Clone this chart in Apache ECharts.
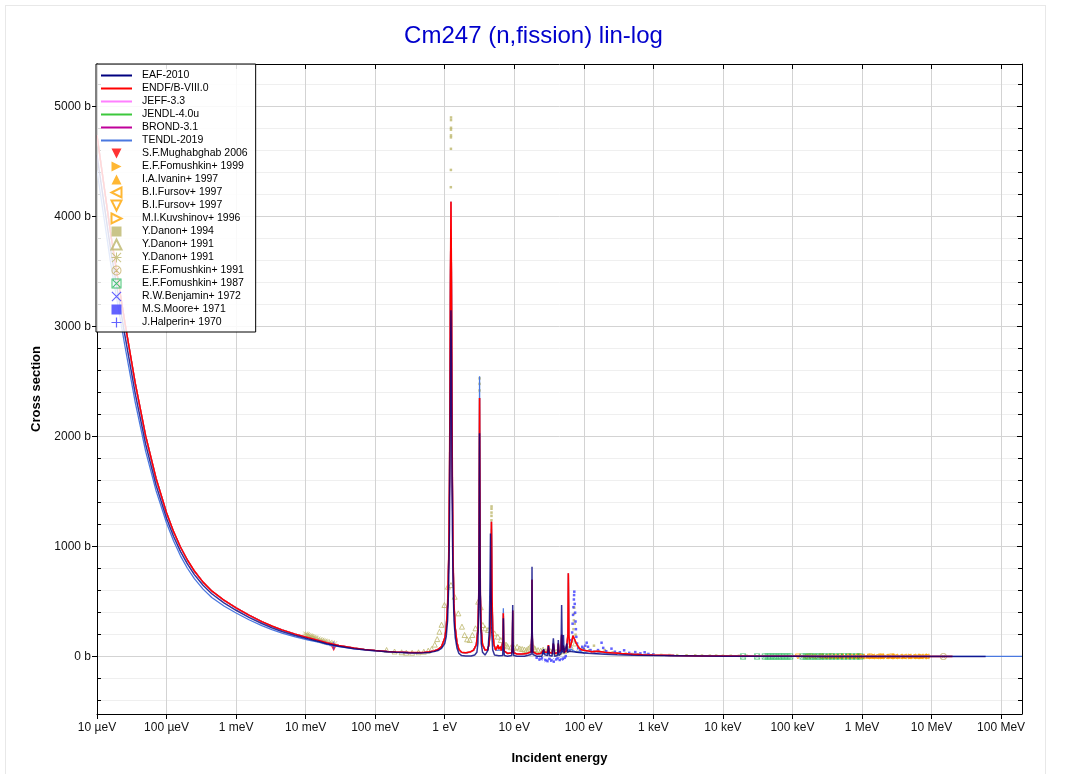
<!DOCTYPE html>
<html><head><meta charset="utf-8">
<script src="https://cdn.jsdelivr.net/npm/echarts@6/dist/echarts.min.js"></script>
<style>
html,body{margin:0;padding:0;background:#fff;}
#frame{position:absolute;left:5px;top:5px;width:1039px;height:790px;border:1px solid #e8e8e8;}
#chart{position:absolute;left:0;top:0;width:1067px;height:774px;}
</style></head>
<body><div id="frame"></div><div id="chart"></div>
<script>
// ---------- ticks ----------
const xTickValues = [1e-5,1e-4,1e-3,1e-2,1e-1,1,10,100,1e3,1e4,1e5,1e6,1e7,1e8];
const xTickLabels = ['10 µeV','100 µeV','1 meV','10 meV','100 meV','1 eV','10 eV','100 eV','1 keV','10 keV','100 keV','1 MeV','10 MeV','100 MeV'];
const yMajorTicks = [0,1000,2000,3000,4000,5000];
const yMinorTicks = [-400,-200,200,400,600,800,1200,1400,1600,1800,2200,2400,2600,2800,3200,3400,3600,3800,4200,4400,4600,4800,5200];

// ---------- evaluated data [energy eV, cross section b] ----------
const endf80 = [
[1e-5,4740],[1.585e-5,3830],[2.512e-5,3042],[3.548e-5,2486],[5.012e-5,2007],[7.079e-5,1620],[1e-4,1308],[1.259e-4,1139],[1.585e-4,997],[1.995e-4,879],[2.512e-4,779],[3.35e-4,678],[4.467e-4,598],[6.683e-4,514],[1e-3,444],[1.531e-3,378],[2.344e-3,319],[3.273e-3,279],[4.571e-3,244],[7.079e-3,205],[1.096e-2,172],[1.585e-2,146],[2e-2,127],[3e-2,102],[5e-2,78],[7e-2,66],[0.1,57],[0.15,48],[0.2,43],[0.3,38],[0.4,37],[0.5,39],[0.6,44],[0.7,52],[0.8,66],[0.9,92],
[1.0,170],[1.05,260],[1.1,480],[1.14,900],[1.17,1600],[1.19,2450],[1.21,3500],[1.23,4136],[1.25,3500],[1.27,2450],[1.29,1600],[1.32,900],[1.36,480],[1.42,260],[1.5,130],[1.6,65],[1.75,40],[2.0,35],[2.3,42],[2.6,60],[2.85,110],[3.0,250],[3.08,550],[3.12,1100],[3.15,1800],[3.17,2352],[3.19,1800],[3.22,1100],[3.26,550],[3.35,250],[3.5,110],[3.8,60],[4.1,60],[4.35,110],[4.5,250],[4.6,550],[4.66,950],[4.7,1226],[4.74,950],[4.8,550],[4.9,250],[5.1,110],[5.4,60],[5.7,70],[5.85,106],[5.95,70],[6.2,65],[6.35,91],[6.5,55],[6.8,60],[6.9,150],[6.97,394],[7.04,150],[7.2,50],[8,30],[9.2,35],[9.4,120],[9.5,420],[9.6,120],[9.8,35],[11,25],[13,25],[15,28],[17.5,45],[17.85,200],[18,700],[18.15,200],[18.5,45],[21,25],[24,30],[26.5,60],[27,70],[27.5,40],[30,40],[31,105],[32,40],[35,30],[36.5,120],[38,30],[42,35],[43,120],[44,40],[47,60],[48,200],[49,60],[51,100],[52,40],[56,50],[59,200],[60,758],[61,200],[63,80],[66,120],[70,190],[74,197],[78,120],[85,80],[95,60],[110,55],[130,45],[160,50],[200,40],[250,35],[350,28],[500,22],[700,18],[1000,15],[2000,11],[5000,7],[1e4,5.5],[3e4,4],[1e5,3],[3e5,2.3],[1e6,2],[3e6,2],[1e7,2.2],[2e7,2.4]
];
const jeff33 = endf80;   // coincides with ENDF/B-VIII.0 in the picture
const jendl40u = endf80; // coincides with ENDF/B-VIII.0 in the picture
const brond31 = endf80;  // coincides with ENDF/B-VIII.0 in the picture
const eaf2010 = [
[1e-5,4560],[1.585e-5,3684],[2.512e-5,2926],[3.548e-5,2392],[5.012e-5,1931],[7.079e-5,1558],[1e-4,1258],[1.259e-4,1095],[1.585e-4,957],[1.995e-4,843],[2.512e-4,746],[3.35e-4,649],[4.467e-4,572],[6.683e-4,490],[1e-3,422],[1.531e-3,358],[2.344e-3,302],[3.273e-3,263],[4.571e-3,229],[7.079e-3,192],[1.096e-2,160],[1.585e-2,136],[2e-2,118],[3e-2,95],[5e-2,73],[7e-2,62],[0.1,53],[0.15,45],[0.2,40],[0.3,35],[0.4,34],[0.5,35],[0.6,39],[0.7,46],[0.8,56],[0.9,75],
[1.0,120],[1.05,180],[1.1,330],[1.14,650],[1.17,1150],[1.19,1800],[1.21,2650],[1.23,3150],[1.25,2650],[1.27,1800],[1.29,1150],[1.32,650],[1.36,330],[1.42,170],[1.5,80],[1.6,30],[1.75,10],[2.0,6],[2.4,6],[2.7,15],[2.9,40],[3.0,120],[3.08,400],[3.12,900],[3.15,1550],[3.17,2031],[3.19,1550],[3.22,900],[3.26,400],[3.35,120],[3.5,40],[3.8,15],[4.0,20],[4.2,60],[4.38,250],[4.48,700],[4.55,1120],[4.62,700],[4.72,250],[4.9,60],[5.2,15],[6,8],[6.8,10],[6.9,80],[6.97,350],[7.04,80],[7.2,10],[8,5],[9.2,10],[9.4,130],[9.5,470],[9.6,130],[9.8,10],[11,4],[14,4],[17.5,20],[17.85,230],[18,818],[18.15,230],[18.5,20],[21,5],[25,5],[26,20],[26.5,70],[27,20],[30,10],[31,97],[32,10],[35,5],[36.5,167],[38,5],[42,10],[43,151],[44,10],[47,30],[48,470],[49,40],[51,197],[52,30],[55,40],[57,120],[58,40],[62,50],[70,45],[85,38],[100,33],[130,28],[200,22],[300,18],[500,14],[1000,11],[2000,9],[5000,6.5],[1e4,5],[3e4,4],[1e5,3],[3e5,2.3],[1e6,2],[3e6,2],[1e7,2.2],[2e7,2.4],[6e7,2.5]
];
const tendl2019 = [
[1e-5,4420],[1.585e-5,3562],[2.512e-5,2829],[3.548e-5,2312],[5.012e-5,1867],[7.079e-5,1507],[1e-4,1216],[1.259e-4,1054],[1.585e-4,917],[1.995e-4,804],[2.512e-4,709],[3.35e-4,614],[4.467e-4,538],[6.683e-4,461],[1e-3,397],[1.531e-3,336],[2.344e-3,282],[3.273e-3,246],[4.571e-3,215],[7.079e-3,180],[1.096e-2,151],[1.585e-2,130],[2e-2,113],[3e-2,92],[5e-2,72],[7e-2,61],[0.1,53],[0.15,45],[0.2,41],[0.3,36],[0.4,35],[0.5,37],[0.6,42],[0.7,50],[0.8,63],[0.9,88],
[1.0,165],[1.05,250],[1.1,460],[1.14,860],[1.17,1530],[1.19,2350],[1.21,3350],[1.23,3950],[1.25,3350],[1.27,2350],[1.29,1530],[1.32,860],[1.36,460],[1.42,250],[1.5,125],[1.6,60],[1.75,38],[2.0,33],[2.3,40],[2.6,58],[2.85,110],[3.0,260],[3.08,590],[3.12,1200],[3.15,1950],[3.17,2550],[3.19,1950],[3.22,1200],[3.26,590],[3.35,260],[3.5,110],[3.8,58],[4.1,58],[4.35,105],[4.5,235],[4.6,520],[4.66,900],[4.7,1160],[4.74,900],[4.8,520],[4.9,235],[5.1,105],[5.4,58],[6.0,60],[6.8,60],[6.9,170],[6.97,440],[7.04,170],[7.2,50],[8,28],[9.2,33],[9.4,110],[9.5,400],[9.6,110],[9.8,33],[11,25],[15,27],[17.5,42],[17.85,190],[18,650],[18.15,190],[18.5,42],[21,24],[25,28],[30,35],[35,28],[40,30],[45,40],[50,45],[55,50],[60,60],[65,70],[70,55],[80,40],[90,45],[100,35],[120,50],[150,30],[180,40],[220,28],[300,32],[400,22],[500,25],[700,17],[1000,14],[2000,10],[5000,7],[1e4,5.5],[3e4,4],[1e5,3],[3e5,2.3],[1e6,2],[3e6,2],[1e7,2.2],[2e7,2.4],[6e7,2.3],[1e8,2.2],[2e8,2.1]
];

// ---------- experimental data ----------
const mughabghab2006 = [[0.0253,82]];
const fomushkin1999 = [[1.5e6,2.1],[2.5e6,2.0],[4e6,2.1],[6e6,2.1],[8e6,2.2]];
const ivanin1997 = [[3e5,2.0],[3.5e5,2.1],[4e5,2.0],[4.5e5,2.1],[5e5,2.0],[6e5,2.1],[7e5,2.1],[8e5,2.0],[9e5,2.1],[1e6,2.0],[1.2e6,2.1],[1.4e6,2.1],[1.6e6,2.0],[1.8e6,2.1],[2e6,2.0],[2.4e6,2.1],[2.8e6,2.1],[3.3e6,2.1],[4e6,2.2],[5e6,2.2],[6e6,2.1],[7e6,2.1]];
const fursov1997a = [[1.5e5,2.0],[2e5,2.1],[2.5e5,2.0],[3e5,2.0],[4e5,2.1],[5e5,2.0],[6e5,2.0],[7e5,2.1],[8e5,2.1],[1e6,2.0],[1.2e6,2.0],[1.4e6,2.1],[1.6e6,2.1],[1.9e6,2.0],[2.2e6,2.1],[2.6e6,2.0],[3e6,2.0],[3.5e6,2.1],[4e6,2.1],[4.7e6,2.1],[5.5e6,2.2],[6.3e6,2.2],[7e6,2.2],[7.8e6,2.2],[8.5e6,2.2]];
const fursov1997b = [[1.2e5,1.9],[1.8e5,2.0],[2.6e5,2.0],[3.6e5,2.0],[5e5,2.0],[6.5e5,2.1],[9e5,2.1],[1.3e6,2.0],[1.9e6,2.0],[2.7e6,2.0]];
const kuvshinov1996 = [[1e6,2.0],[2e6,2.0],[3e6,2.0],[5e6,2.1],[7e6,2.2],[9e6,2.2]];
const danon1994 = [
[1.225,4268],[1.227,4425],[1.228,4617],[1.229,4721],[1.23,4739],[1.23,4791],[1.231,4808],[1.232,4878],[1.232,4902],
[3.17,2420],[3.17,2480],[3.172,2530],
[4.7,1240],[4.705,1280],[4.71,1310],[4.71,1345],[4.715,1366],
[68,140],[70,180],[71,250],[72,330],[72.5,390],[73,445],[74,300],[76,200],
[100,80],[120,60],[140,100],[160,50],[200,60],[260,40],[300,30],[400,28],[500,25],[600,22],[800,20],[1000,18],[1300,16],[1700,15],[2200,14],[3000,13],[4000,12],[5000,11],[6500,10],[8000,10],[1e4,9],[1.3e4,9],[1.7e4,8],[2.2e4,8]
];
const danon1991a = [
[0.146,61],[0.19,47],[0.24,40],[0.28,36],[0.34,36],[0.42,40],[0.5,45],[0.58,55],[0.65,70],[0.72,110],[0.78,160],[0.84,227],[0.9,290],[0.99,470],[1.11,636],[1.23,651],[1.39,545],[1.57,394],[1.77,273],[1.93,197],[2.1,158],[2.29,152],[2.5,197],[2.77,258],[3.03,500],[3.3,450],[3.53,288],[3.8,258],[4.2,243],[4.7,243],[5.2,212],[5.8,182],[6.4,152],[7.0,124],[7.6,110],
[8,95],[9,85],[10,80],[11,90],[12,75],[13,70],[14,65],[15,60],[16,75],[17,90],[19,85],[20,70],[22,60],[24,55],[26,65],[28,50],[30,55],[33,50],[36,55],[40,45],[44,40],[48,60],[52,50],[56,60],[60,70],[65,90],[75,120],[85,70],[95,60]
];
const danon1991b = [[0.0100,205],[0.0105,198],[0.011,192],[0.0115,186],[0.012,182],[0.0125,178],[0.013,172],[0.0135,168],[0.014,165],[0.015,160],[0.016,152],[0.017,148],[0.018,142],[0.019,138],[0.02,134],[0.022,128],[0.024,122],[0.026,116]];
const fomushkin1991 = [[1.48e7,2.0]];
const fomushkin1987 = [[1.95e4,2],[3.1e4,2],[4.0e4,2],[4.4e4,2],[4.8e4,2],[5.3e4,2],[5.8e4,2],[6.4e4,2],[7.0e4,2],[7.7e4,2],[8.5e4,2],[9.3e4,2],[1.4e5,2],[1.55e5,2],[1.7e5,2],[1.9e5,2],[2.1e5,2],[2.35e5,2],[2.6e5,2],[2.9e5,2],[3.3e5,2],[3.7e5,2],[4.2e5,2],[4.8e5,2],[5.5e5,2],[6.3e5,2],[7.2e5,2],[8.3e5,2],[9.5e5,2]];
const benjamin1972 = [[24,-20],[29,-35],[35,-30],[47,-20]];
const moore1971 = [
[21,-10],[23,-25],[25,-15],[28,-30],[30,-40],[32,-20],[34,-35],[37,-45],[40,-25],[42,-15],[45,-30],[50,-20],[53,-10],[55,5],
[62,60],[64,90],[66,150],[68,220],[69,300],[70,380],[71,450],[72,520],[72.5,560],[73,591],[74,480],[75,400],[76,320],[77,250],[78,180],[80,120],[83,80],[88,60],[95,90],[100,70],[105,100],[110,127],[115,90],[125,60],[140,45],[160,60],[180,127],[190,80],[210,50],[250,73],[280,45],[330,40],[380,58],[450,35],[550,42],[650,30],[750,40],[850,25],[1000,20]
];
const halperin1970 = [[0.0253,100]];

// ---------- symbols ----------
const P_DOWN = 'path://M0,0L10,0L5,10Z';
const P_RIGHT = 'path://M0,0L10,5L0,10Z';
const P_LEFT = 'path://M10,0L0,5L10,10Z';
const P_UP = 'path://M5,0L10,10L0,10Z';
const P_SQ = 'path://M0,0H10V10H0Z';
const P_PLUS = 'path://M4.4,0H5.6V10H4.4Z M0,4.4H10V5.6H0Z';
const P_TIMES = 'path://M0.8,0L10,9.2L9.2,10L0,0.8Z M9.2,0L10,0.8L0.8,10L0,9.2Z';
const P_AST = 'path://M4.5,0H5.5V10H4.5Z M0,4.5H10V5.5H0Z M0.8,0.1L9.9,9.2L9.2,9.9L0.1,0.8Z M9.2,0.1L9.9,0.8L0.8,9.9L0.1,9.2Z';
const P_CIRCX = 'path://M5,0A5,5,0,1,1,5,10A5,5,0,1,1,5,0Z M5,1A4,4,0,1,0,5,9A4,4,0,1,0,5,1Z M2.2,1.5L8.5,7.8L7.8,8.5L1.5,2.2Z M7.8,1.5L8.5,2.2L2.2,8.5L1.5,7.8Z';
const P_SQX = 'path://M0,0H10V10H0Z M1,1V9H9V1Z M1.7,1L9,8.3L8.3,9L1,1.7Z M8.3,1L9,1.7L1.7,9L1,8.3Z';
const P_LINE = 'path://M0,0H0.01V0.01H0Z M0,9.99H0.01V10H0Z M0,4H31V6H0Z';

const FONT = '"Liberation Sans", Arial, Helvetica, sans-serif';
const ORANGE = '#ffa500', OLIVE = '#bdb76b', BLUE = '#3b3bff';

function lineSeries(name, data, color, w, op) {
  return {name, type:'line', data, showSymbol:false, symbol:'none', silent:true, clip:true,
    lineStyle:{color, width:w, opacity:op}, itemStyle:{color}, z:3};
}
function scat(name, data, symbol, size, color, hollow) {
  return {name, type:'scatter', data, symbol, symbolSize:size, silent:true, z:2,
    itemStyle: hollow ? {color:'rgba(255,255,255,0)', borderColor:color, borderWidth:1} : {color}};
}
const lineNames = ['EAF-2010','ENDF/B-VIII.0','JEFF-3.3','JENDL-4.0u','BROND-3.1','TENDL-2019'];
const markNames = ['S.F.Mughabghab 2006','E.F.Fomushkin+ 1999','I.A.Ivanin+ 1997','B.I.Fursov+ 1997 ','B.I.Fursov+ 1997','M.I.Kuvshinov+ 1996',
      'Y.Danon+ 1994','Y.Danon+ 1991','Y.Danon+ 1991 ','E.F.Fomushkin+ 1991','E.F.Fomushkin+ 1987','R.W.Benjamin+ 1972','M.S.Moore+ 1971','J.Halperin+ 1970'];

const chart = echarts.init(document.getElementById('chart'), null, {renderer:'canvas'});
const axisMin = -521, axisMax = 5388;
const xLabelFmt = (v)=>{const i=xTickValues.findIndex(t=>Math.abs(t-v)/t<1e-6); return i>=0?xTickLabels[i]:'';};
chart.setOption({
  animation:false,
  backgroundColor:'transparent',
  title:{text:'Cm247 (n,fission) lin-log', left:'center', top:19,
    textStyle:{color:'#0000cc', fontSize:24, fontWeight:'normal', fontFamily:FONT}},
  grid:{left:97, right:45, top:64, bottom:60, containLabel:false},
  legend:{orient:'vertical', left:96, top:64, padding:[5,8,3,5], itemGap:0, itemWidth:31, itemHeight:10,
    backgroundColor:'rgba(255,255,255,0.85)', borderColor:'#000', borderWidth:1, borderRadius:0,
    textStyle:{fontSize:10.5, fontFamily:FONT, color:'#000', lineHeight:13, padding:[0,0,0,5]},
    data: lineNames.map(n=>({name:n, icon:P_LINE})).concat(markNames.map(n=>({name:n})))},
  xAxis:[
    {type:'log', logBase:10, min:1e-5, max:2e8, position:'bottom',
      axisLine:{show:true, onZero:false, lineStyle:{color:'#000', width:1}},
      axisTick:{show:true, inside:false, length:5, lineStyle:{color:'#000'}, customValues:xTickValues},
      axisLabel:{color:'#111', fontSize:12, fontFamily:FONT, margin:8, customValues:xTickValues, formatter:xLabelFmt},
      splitLine:{show:true, lineStyle:{color:'#d3d3d3', width:1}},
      name:'Incident energy', nameLocation:'middle', nameGap:38,
      nameTextStyle:{fontWeight:'bold', fontSize:13, fontFamily:FONT, color:'#000'}},
    {type:'log', logBase:10, min:1e-5, max:2e8, position:'top',
      axisLine:{show:true, onZero:false, lineStyle:{color:'#000', width:1}},
      axisTick:{show:true, inside:true, length:5, lineStyle:{color:'#000'}, customValues:xTickValues},
      axisLabel:{show:false, customValues:xTickValues}, splitLine:{show:false}}
  ],
  yAxis:[
    {type:'value', min:axisMin, max:axisMax, position:'left',
      axisLine:{show:true, onZero:false, lineStyle:{color:'#000', width:1}},
      axisTick:{show:true, inside:false, length:5, lineStyle:{color:'#000'}, customValues:yMajorTicks},
      axisLabel:{color:'#111', fontSize:12, fontFamily:FONT, margin:6, customValues:yMajorTicks, formatter:(v)=>v+' b'},
      splitLine:{show:true, lineStyle:{color:'#d3d3d3', width:1}},
      name:'Cross section', nameLocation:'middle', nameGap:54, nameRotate:90,
      nameTextStyle:{fontWeight:'bold', fontSize:13, fontFamily:FONT, color:'#000'}},
    {type:'value', min:axisMin, max:axisMax, position:'left',
      axisLine:{show:false, onZero:false},
      axisTick:{show:true, inside:true, length:4, lineStyle:{color:'#000'}, customValues:yMinorTicks},
      axisLabel:{show:false, customValues:yMinorTicks},
      splitLine:{show:true, lineStyle:{color:'#efefef', width:1}}},
    {type:'value', min:axisMin, max:axisMax, position:'right',
      axisLine:{show:true, onZero:false, lineStyle:{color:'#000', width:1}},
      axisTick:{show:true, inside:true, length:5, lineStyle:{color:'#000'}, customValues:yMajorTicks},
      axisLabel:{show:false, customValues:yMajorTicks}, splitLine:{show:false}},
    {type:'value', min:axisMin, max:axisMax, position:'right',
      axisLine:{show:false, onZero:false},
      axisTick:{show:true, inside:true, length:4, lineStyle:{color:'#000'}, customValues:yMinorTicks},
      axisLabel:{show:false, customValues:yMinorTicks}, splitLine:{show:false}}
  ],
  series:[
    scat('S.F.Mughabghab 2006', mughabghab2006, P_DOWN, 7, '#ff0000', false),
    scat('E.F.Fomushkin+ 1999', fomushkin1999, P_RIGHT, 5, ORANGE, false),
    scat('I.A.Ivanin+ 1997', ivanin1997, P_UP, 5, ORANGE, false),
    scat('B.I.Fursov+ 1997 ', fursov1997a, P_LEFT, 5, ORANGE, true),
    scat('B.I.Fursov+ 1997', fursov1997b, P_DOWN, 5, ORANGE, true),
    scat('M.I.Kuvshinov+ 1996', kuvshinov1996, P_RIGHT, 5, ORANGE, true),
    scat('Y.Danon+ 1994', danon1994, P_SQ, 2.5, OLIVE, false),
    scat('Y.Danon+ 1991', danon1991a, P_UP, 5, OLIVE, true),
    scat('Y.Danon+ 1991 ', danon1991b, P_AST, 6, OLIVE, false),
    scat('E.F.Fomushkin+ 1991', fomushkin1991, P_CIRCX, 7, '#c4ac62', false),
    scat('E.F.Fomushkin+ 1987', fomushkin1987, P_SQX, 6, '#18b450', false),
    scat('R.W.Benjamin+ 1972', benjamin1972, P_TIMES, 4, BLUE, false),
    scat('M.S.Moore+ 1971', moore1971, P_SQ, 2.5, BLUE, false),
    scat('J.Halperin+ 1970', halperin1970, P_PLUS, 8, BLUE, false),
    lineSeries('TENDL-2019', tendl2019, '#4a78e0', 1.3, 1),
    lineSeries('BROND-3.1', brond31, '#c0009a', 1.3, 1),
    lineSeries('JENDL-4.0u', jendl40u, '#3cc83c', 1.3, 1),
    lineSeries('JEFF-3.3', jeff33, '#ff80ff', 1.3, 1),
    lineSeries('ENDF/B-VIII.0', endf80, '#ff0000', 1.5, 1),
    lineSeries('EAF-2010', eaf2010, '#000080', 1.5, 0.8)
  ]
});
</script></body></html>
